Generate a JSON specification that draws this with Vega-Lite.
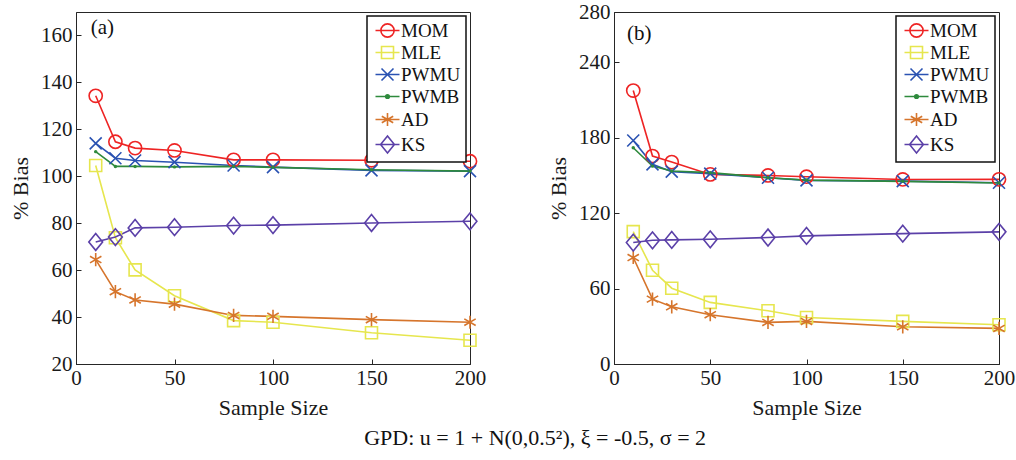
{
  "$schema": "https://vega.github.io/schema/vega-lite/v6.json",
  "background": "white",
  "padding": {"left": 9, "top": 0, "right": 0, "bottom": 5},
  "config": {
    "font": "Liberation Serif",
    "view": {"stroke": "#262626", "strokeWidth": 1},
    "style": {"guide-label": {"font": "Liberation Serif"}, "guide-title": {"font": "Liberation Serif"}, "group-title": {"font": "Liberation Serif"}},
    "axis": {
      "labelFont": "Liberation Serif", "labelFontSize": 21, "labelColor": "#1a1a1a", "labelFlush": false,
      "titleFont": "Liberation Serif", "titleFontSize": 22, "titleFontWeight": "normal", "titleColor": "#1a1a1a",
      "domainColor": "#262626", "tickColor": "#262626", "tickSize": -5, "grid": false
    },
    "axisX": {"labelPadding": 8, "titlePadding": 9},
    "axisY": {"labelPadding": 9, "titlePadding": 8},
    "legend": {
      "orient": "top-right", "offset": 4, "padding": 5, "strokeColor": "#111111", "strokeWidth": 1.5, "fillColor": "white",
      "labelFont": "Liberation Serif", "labelFontSize": 19, "labelColor": "#111111", "symbolSize": 144, "rowPadding": 2, "labelOffset": 10
    }
  },
  "title": {"text": "GPD: u = 1 + N(0,0.5²), ξ = -0.5, σ = 2", "orient": "bottom", "anchor": "middle", "font": "Liberation Serif", "fontSize": 22, "fontWeight": "normal", "color": "#111111", "offset": 9, "dx": 23},
  "datasets": {
    "d": [
      {"panel": "a", "method": "MOM", "n": 10, "bias": 134.3},
      {"panel": "a", "method": "MOM", "n": 20, "bias": 114.7},
      {"panel": "a", "method": "MOM", "n": 30, "bias": 112.0},
      {"panel": "a", "method": "MOM", "n": 50, "bias": 111.0},
      {"panel": "a", "method": "MOM", "n": 80, "bias": 107.0},
      {"panel": "a", "method": "MOM", "n": 100, "bias": 107.0},
      {"panel": "a", "method": "MOM", "n": 150, "bias": 106.8},
      {"panel": "a", "method": "MOM", "n": 200, "bias": 106.4},
      {"panel": "a", "method": "MLE", "n": 10, "bias": 104.6},
      {"panel": "a", "method": "MLE", "n": 20, "bias": 73.8},
      {"panel": "a", "method": "MLE", "n": 30, "bias": 60.1},
      {"panel": "a", "method": "MLE", "n": 50, "bias": 49.1},
      {"panel": "a", "method": "MLE", "n": 80, "bias": 38.5},
      {"panel": "a", "method": "MLE", "n": 100, "bias": 37.8},
      {"panel": "a", "method": "MLE", "n": 150, "bias": 33.3},
      {"panel": "a", "method": "MLE", "n": 200, "bias": 30.1},
      {"panel": "a", "method": "PWMU", "n": 10, "bias": 114.0},
      {"panel": "a", "method": "PWMU", "n": 20, "bias": 107.7},
      {"panel": "a", "method": "PWMU", "n": 30, "bias": 106.7},
      {"panel": "a", "method": "PWMU", "n": 50, "bias": 106.0},
      {"panel": "a", "method": "PWMU", "n": 80, "bias": 104.6},
      {"panel": "a", "method": "PWMU", "n": 100, "bias": 103.9},
      {"panel": "a", "method": "PWMU", "n": 150, "bias": 102.5},
      {"panel": "a", "method": "PWMU", "n": 200, "bias": 102.2},
      {"panel": "a", "method": "PWMB", "n": 10, "bias": 110.5},
      {"panel": "a", "method": "PWMB", "n": 20, "bias": 104.2},
      {"panel": "a", "method": "PWMB", "n": 30, "bias": 104.2},
      {"panel": "a", "method": "PWMB", "n": 50, "bias": 104.0},
      {"panel": "a", "method": "PWMB", "n": 80, "bias": 104.2},
      {"panel": "a", "method": "PWMB", "n": 100, "bias": 103.8},
      {"panel": "a", "method": "PWMB", "n": 150, "bias": 102.8},
      {"panel": "a", "method": "PWMB", "n": 200, "bias": 102.2},
      {"panel": "a", "method": "AD", "n": 10, "bias": 64.5},
      {"panel": "a", "method": "AD", "n": 20, "bias": 50.8},
      {"panel": "a", "method": "AD", "n": 30, "bias": 47.3},
      {"panel": "a", "method": "AD", "n": 50, "bias": 45.5},
      {"panel": "a", "method": "AD", "n": 80, "bias": 40.7},
      {"panel": "a", "method": "AD", "n": 100, "bias": 40.3},
      {"panel": "a", "method": "AD", "n": 150, "bias": 38.9},
      {"panel": "a", "method": "AD", "n": 200, "bias": 37.8},
      {"panel": "a", "method": "KS", "n": 10, "bias": 72.0},
      {"panel": "a", "method": "KS", "n": 20, "bias": 74.1},
      {"panel": "a", "method": "KS", "n": 30, "bias": 78.0},
      {"panel": "a", "method": "KS", "n": 50, "bias": 78.3},
      {"panel": "a", "method": "KS", "n": 80, "bias": 79.0},
      {"panel": "a", "method": "KS", "n": 100, "bias": 79.2},
      {"panel": "a", "method": "KS", "n": 150, "bias": 80.1},
      {"panel": "a", "method": "KS", "n": 200, "bias": 80.8},
      {"panel": "b", "method": "MOM", "n": 10, "bias": 217.5},
      {"panel": "b", "method": "MOM", "n": 20, "bias": 165.4},
      {"panel": "b", "method": "MOM", "n": 30, "bias": 160.6},
      {"panel": "b", "method": "MOM", "n": 50, "bias": 150.8},
      {"panel": "b", "method": "MOM", "n": 80, "bias": 150.0},
      {"panel": "b", "method": "MOM", "n": 100, "bias": 149.0},
      {"panel": "b", "method": "MOM", "n": 150, "bias": 146.8},
      {"panel": "b", "method": "MOM", "n": 200, "bias": 146.9},
      {"panel": "b", "method": "MLE", "n": 10, "bias": 105.3},
      {"panel": "b", "method": "MLE", "n": 20, "bias": 74.6},
      {"panel": "b", "method": "MLE", "n": 30, "bias": 60.3},
      {"panel": "b", "method": "MLE", "n": 50, "bias": 49.0},
      {"panel": "b", "method": "MLE", "n": 80, "bias": 42.3},
      {"panel": "b", "method": "MLE", "n": 100, "bias": 37.0},
      {"panel": "b", "method": "MLE", "n": 150, "bias": 33.9},
      {"panel": "b", "method": "MLE", "n": 200, "bias": 31.2},
      {"panel": "b", "method": "PWMU", "n": 10, "bias": 177.8},
      {"panel": "b", "method": "PWMU", "n": 20, "bias": 158.8},
      {"panel": "b", "method": "PWMU", "n": 30, "bias": 153.0},
      {"panel": "b", "method": "PWMU", "n": 50, "bias": 151.4},
      {"panel": "b", "method": "PWMU", "n": 80, "bias": 148.2},
      {"panel": "b", "method": "PWMU", "n": 100, "bias": 146.1},
      {"panel": "b", "method": "PWMU", "n": 150, "bias": 145.5},
      {"panel": "b", "method": "PWMU", "n": 200, "bias": 144.2},
      {"panel": "b", "method": "PWMB", "n": 10, "bias": 172.0},
      {"panel": "b", "method": "PWMB", "n": 20, "bias": 157.4},
      {"panel": "b", "method": "PWMB", "n": 30, "bias": 153.5},
      {"panel": "b", "method": "PWMB", "n": 50, "bias": 152.2},
      {"panel": "b", "method": "PWMB", "n": 80, "bias": 148.2},
      {"panel": "b", "method": "PWMB", "n": 100, "bias": 146.3},
      {"panel": "b", "method": "PWMB", "n": 150, "bias": 145.3},
      {"panel": "b", "method": "PWMB", "n": 200, "bias": 144.0},
      {"panel": "b", "method": "AD", "n": 10, "bias": 84.7},
      {"panel": "b", "method": "AD", "n": 20, "bias": 51.6},
      {"panel": "b", "method": "AD", "n": 30, "bias": 45.5},
      {"panel": "b", "method": "AD", "n": 50, "bias": 39.2},
      {"panel": "b", "method": "AD", "n": 80, "bias": 33.1},
      {"panel": "b", "method": "AD", "n": 100, "bias": 33.9},
      {"panel": "b", "method": "AD", "n": 150, "bias": 29.6},
      {"panel": "b", "method": "AD", "n": 200, "bias": 28.3},
      {"panel": "b", "method": "KS", "n": 10, "bias": 96.6},
      {"panel": "b", "method": "KS", "n": 20, "bias": 98.4},
      {"panel": "b", "method": "KS", "n": 30, "bias": 98.7},
      {"panel": "b", "method": "KS", "n": 50, "bias": 99.2},
      {"panel": "b", "method": "KS", "n": 80, "bias": 100.6},
      {"panel": "b", "method": "KS", "n": 100, "bias": 101.9},
      {"panel": "b", "method": "KS", "n": 150, "bias": 103.7},
      {"panel": "b", "method": "KS", "n": 200, "bias": 105.1}
    ],
    "labels": [
      {"panel": "a", "lab": "(a)", "n": 7.5, "bias": 163},
      {"panel": "b", "lab": "(b)", "n": 6.8, "bias": 262.5}
    ]
  },
  "spacing": 60,
  "resolve": {"scale": {"color": "independent"}, "legend": {"color": "independent"}},
  "hconcat": [
    {
      "width": 394, "height": 352,
      "data": {"name": "d"},
      "transform": [{"filter": "datum.panel === 'a'"}],
      "encoding": {
        "x": {"field": "n", "type": "quantitative", "scale": {"domain": [0, 200]}, "axis": {"values": [0, 50, 100, 150, 200], "title": "Sample Size", "labelFont": "Liberation Serif", "titleFont": "Liberation Serif"}},
        "y": {"field": "bias", "type": "quantitative", "scale": {"domain": [20, 170]}, "axis": {"values": [20, 40, 60, 80, 100, 120, 140, 160], "title": "% Bias", "labelFont": "Liberation Serif", "titleFont": "Liberation Serif"}},
        "color": {"field": "method", "type": "nominal",
          "scale": {"domain": ["MOM", "MLE", "PWMU", "PWMB", "AD", "KS"], "range": ["#EE2424", "#E6E64E", "#2A52B2", "#2E8A3C", "#D6752C", "#5B40A8"]},
          "legend": {"title": null, "encode": {"symbols": {"update": {
            "shape": {"signal": "datum.value === 'MOM' ? 'M-1,0H3M2.1,0A1.1,1.1,0,1,1,-0.1,0A1.1,1.1,0,1,1,2.1,0' : datum.value === 'MLE' ? 'M-1,0H3M0,-1H2V1H0Z' : datum.value === 'PWMU' ? 'M-1,0H3M0,-1L2,1M0,1L2,-1' : datum.value === 'PWMB' ? 'M-1,0H3M1.3,0A0.3,0.3,0,1,1,0.7,0A0.3,0.3,0,1,1,1.3,0' : datum.value === 'AD' ? 'M-1,0H3M1,-1.1V1.1M0.05,-0.55L1.95,0.55M0.05,0.55L1.95,-0.55' : 'M-1,0H3M1,-1.4L2.15,0L1,1.4L-0.15,0Z'"},
            "fill": {"signal": "datum.value === 'PWMB' ? '#2E8A3C' : 'transparent'"},
            "stroke": {"signal": "datum.value === 'MOM' ? '#EE2424' : datum.value === 'MLE' ? '#E6E64E' : datum.value === 'PWMU' ? '#2A52B2' : datum.value === 'PWMB' ? '#2E8A3C' : datum.value === 'AD' ? '#D6752C' : '#5B40A8'"},
            "strokeWidth": {"value": 1.6},
            "opacity": {"value": 1}
          }}}}
        }
      },
      "layer": [
        {"mark": {"type": "line", "strokeWidth": 1.6}},
        {"transform": [{"filter": "datum.method === 'MOM'"}], "mark": {"type": "point", "filled": false, "size": 144, "strokeWidth": 1.6, "opacity": 1, "shape": "M1.1,0A1.1,1.1,0,1,1,-1.1,0A1.1,1.1,0,1,1,1.1,0Z"}},
        {"transform": [{"filter": "datum.method === 'MLE'"}], "mark": {"type": "point", "filled": false, "size": 144, "strokeWidth": 1.6, "opacity": 1, "shape": "M-1,-1H1V1H-1Z"}},
        {"transform": [{"filter": "datum.method === 'PWMU'"}], "mark": {"type": "point", "filled": false, "size": 144, "strokeWidth": 1.6, "opacity": 1, "shape": "M-1,-1L1,1M-1,1L1,-1"}},
        {"transform": [{"filter": "datum.method === 'AD'"}], "mark": {"type": "point", "filled": false, "size": 144, "strokeWidth": 1.6, "opacity": 1, "shape": "M0,-1.1V1.1M-0.95,-0.55L0.95,0.55M-0.95,0.55L0.95,-0.55"}},
        {"transform": [{"filter": "datum.method === 'KS'"}], "mark": {"type": "point", "filled": false, "size": 144, "strokeWidth": 1.6, "opacity": 1, "shape": "M0,-1.4L1.15,0L0,1.4L-1.15,0Z"}},
        {
          "transform": [{"filter": "datum.method === 'PWMB'"}],
          "mark": {"type": "point", "filled": true, "size": 12, "shape": "circle", "opacity": 1},
          "encoding": {"color": {"value": "#2E8A3C"}}
        },
        {
          "data": {"name": "labels"},
          "transform": [{"filter": "datum.panel === 'a'"}],
          "mark": {"type": "text", "align": "left", "baseline": "middle", "fontSize": 21, "font": "Liberation Serif"},
          "encoding": {
            "color": {"value": "#111111"},
            "text": {"field": "lab"}
          }
        }
      ]
    },
    {
      "width": 385, "height": 352,
      "data": {"name": "d"},
      "transform": [{"filter": "datum.panel === 'b'"}],
      "encoding": {
        "x": {"field": "n", "type": "quantitative", "scale": {"domain": [0, 200]}, "axis": {"values": [0, 50, 100, 150, 200], "title": "Sample Size", "labelFont": "Liberation Serif", "titleFont": "Liberation Serif"}},
        "y": {"field": "bias", "type": "quantitative", "scale": {"domain": [0, 280]}, "axis": {"values": [0, 60, 120, 180, 240, 280], "title": "% Bias", "labelFont": "Liberation Serif", "titleFont": "Liberation Serif"}},
        "color": {"field": "method", "type": "nominal",
          "scale": {"domain": ["MOM", "MLE", "PWMU", "PWMB", "AD", "KS"], "range": ["#EE2424", "#E6E64E", "#2A52B2", "#2E8A3C", "#D6752C", "#5B40A8"]},
          "legend": {"title": null, "encode": {"symbols": {"update": {
            "shape": {"signal": "datum.value === 'MOM' ? 'M-1,0H3M2.1,0A1.1,1.1,0,1,1,-0.1,0A1.1,1.1,0,1,1,2.1,0' : datum.value === 'MLE' ? 'M-1,0H3M0,-1H2V1H0Z' : datum.value === 'PWMU' ? 'M-1,0H3M0,-1L2,1M0,1L2,-1' : datum.value === 'PWMB' ? 'M-1,0H3M1.3,0A0.3,0.3,0,1,1,0.7,0A0.3,0.3,0,1,1,1.3,0' : datum.value === 'AD' ? 'M-1,0H3M1,-1.1V1.1M0.05,-0.55L1.95,0.55M0.05,0.55L1.95,-0.55' : 'M-1,0H3M1,-1.4L2.15,0L1,1.4L-0.15,0Z'"},
            "fill": {"signal": "datum.value === 'PWMB' ? '#2E8A3C' : 'transparent'"},
            "stroke": {"signal": "datum.value === 'MOM' ? '#EE2424' : datum.value === 'MLE' ? '#E6E64E' : datum.value === 'PWMU' ? '#2A52B2' : datum.value === 'PWMB' ? '#2E8A3C' : datum.value === 'AD' ? '#D6752C' : '#5B40A8'"},
            "strokeWidth": {"value": 1.6},
            "opacity": {"value": 1}
          }}}}
        }
      },
      "layer": [
        {"mark": {"type": "line", "strokeWidth": 1.6}},
        {"transform": [{"filter": "datum.method === 'MOM'"}], "mark": {"type": "point", "filled": false, "size": 144, "strokeWidth": 1.6, "opacity": 1, "shape": "M1.1,0A1.1,1.1,0,1,1,-1.1,0A1.1,1.1,0,1,1,1.1,0Z"}},
        {"transform": [{"filter": "datum.method === 'MLE'"}], "mark": {"type": "point", "filled": false, "size": 144, "strokeWidth": 1.6, "opacity": 1, "shape": "M-1,-1H1V1H-1Z"}},
        {"transform": [{"filter": "datum.method === 'PWMU'"}], "mark": {"type": "point", "filled": false, "size": 144, "strokeWidth": 1.6, "opacity": 1, "shape": "M-1,-1L1,1M-1,1L1,-1"}},
        {"transform": [{"filter": "datum.method === 'AD'"}], "mark": {"type": "point", "filled": false, "size": 144, "strokeWidth": 1.6, "opacity": 1, "shape": "M0,-1.1V1.1M-0.95,-0.55L0.95,0.55M-0.95,0.55L0.95,-0.55"}},
        {"transform": [{"filter": "datum.method === 'KS'"}], "mark": {"type": "point", "filled": false, "size": 144, "strokeWidth": 1.6, "opacity": 1, "shape": "M0,-1.4L1.15,0L0,1.4L-1.15,0Z"}},
        {
          "transform": [{"filter": "datum.method === 'PWMB'"}],
          "mark": {"type": "point", "filled": true, "size": 12, "shape": "circle", "opacity": 1},
          "encoding": {"color": {"value": "#2E8A3C"}}
        },
        {
          "data": {"name": "labels"},
          "transform": [{"filter": "datum.panel === 'b'"}],
          "mark": {"type": "text", "align": "left", "baseline": "middle", "fontSize": 21, "font": "Liberation Serif"},
          "encoding": {
            "color": {"value": "#111111"},
            "text": {"field": "lab"}
          }
        }
      ]
    }
  ]
}
